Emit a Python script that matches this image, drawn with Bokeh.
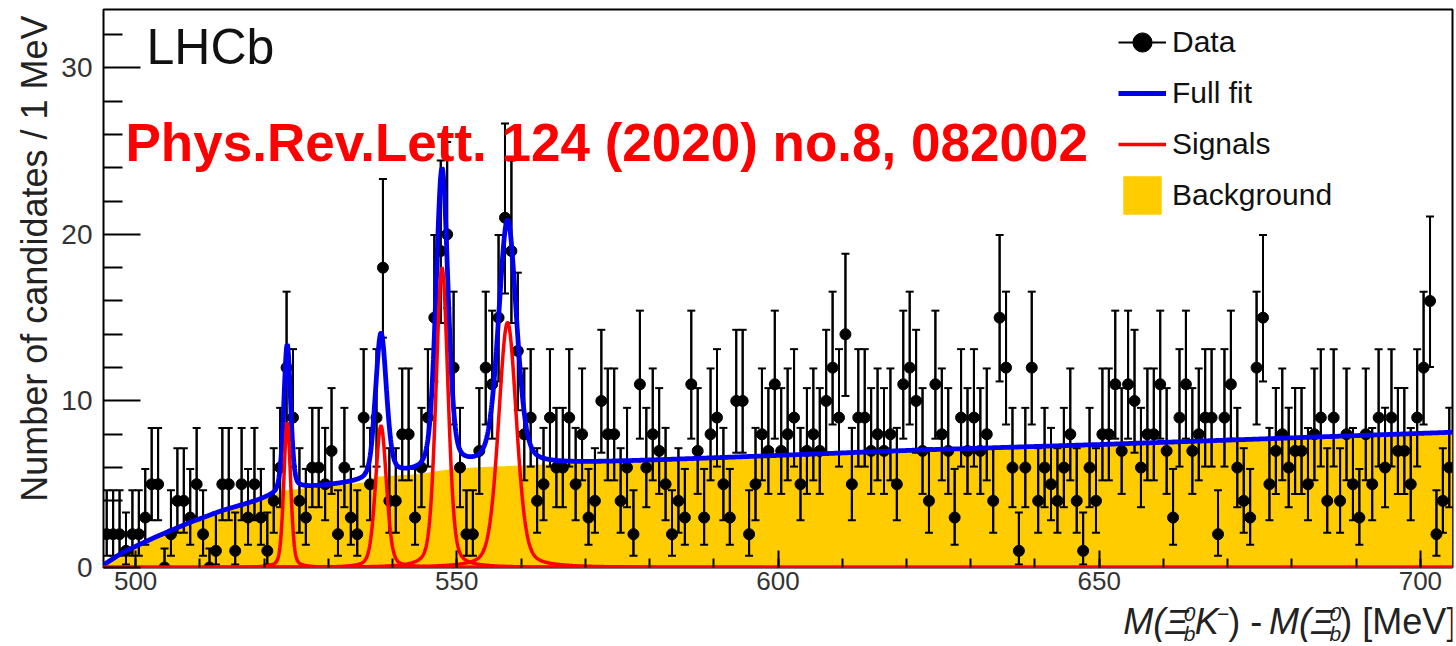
import numpy as np
from bokeh.plotting import figure
from bokeh.layouts import column
from bokeh.models import (ColumnDataSource, Range1d, FixedTicker, Whisker, TeeHead,
                          Legend, LegendItem, Label, Title)
from bokeh.embed import file_html
from bokeh.resources import INLINE

# ---------------- data ----------------
mass_low, mass_high, bin_width = 495.0, 705.0, 1.0
counts = [
    2, 2, 2, 1, 2, 2, 3, 5, 5, 0,
    2, 4, 4, 3, 5, 2, 0, 1, 5, 5,
    1, 5, 3, 5, 3, 1, 4, 6, 12, 9,
    4, 3, 6, 6, 5, 7, 2, 6, 3, 2,
    9, 5, 9, 18, 4, 4, 8, 8, 3, 6,
    9, 15, 19, 20, 12, 6, 2, 2, 7, 12,
    11, 15, 21, 19, 13, 8, 9, 4, 5, 9,
    6, 6, 9, 5, 8, 3, 4, 10, 8, 8,
    4, 6, 2, 11, 6, 8, 7, 5, 2, 4,
    3, 11, 7, 3, 8, 9, 5, 3, 10, 10,
    2, 5, 8, 7, 11, 7, 8, 9, 5, 7,
    8, 7, 10, 12, 9, 14, 5, 9, 9, 7,
    8, 7, 8, 5, 11, 12, 10, 7, 4, 11,
    8, 7, 3, 9, 7, 9, 7, 8, 4, 15,
    12, 6, 1, 6, 12, 4, 6, 5, 4, 6,
    8, 4, 1, 6, 4, 8, 8, 11, 7, 11,
    10, 6, 8, 8, 11, 7, 3, 9, 11, 7,
    8, 9, 9, 2, 9, 11, 6, 4, 3, 12,
    15, 5, 7, 8, 6, 7, 7, 5, 8, 9,
    4, 9, 4, 8, 5, 3, 8, 5, 9, 6,
    9, 7, 7, 5, 9, 12, 16, 2, 4, 6,
]
assert len(counts) == 210

# Poisson 68% intervals (RooFit style) indexed by count
poisson_lower = [0.0, 0.173, 0.708, 1.367, 2.086, 2.840, 3.620, 4.419, 5.232, 6.057,
                 6.891, 7.734, 8.585, 9.441, 10.30, 11.17, 12.04, 12.92, 13.80, 14.68,
                 15.57, 16.45]
poisson_upper = [1.148, 3.300, 4.638, 5.918, 7.163, 8.382, 9.584, 10.77, 11.95, 13.11,
                 14.27, 15.42, 16.56, 17.70, 18.83, 19.96, 21.08, 22.20, 23.32, 24.44,
                 25.55, 26.66]

# Background shape of the fit (knots)
bg_mass = [495.0, 498.0, 503.0, 508.5, 513.5, 519.0, 521.8, 522.4, 526.0, 530.0,
           534.0, 536.6, 537.2, 544.0, 547.0, 550.0, 555.0, 565.0, 600.0, 622.0,
           650.0, 677.0, 705.0]
bg_level = [0.15, 0.9, 1.8, 2.7, 3.4, 4.0, 4.35, 4.6, 4.75, 4.9,
            5.05, 5.15, 5.45, 5.6, 5.8, 5.95, 6.05, 6.2, 6.72, 7.05,
            7.38, 7.74, 8.12]

# Four narrow signal peaks of the fit
sig_mass = [523.6, 538.2, 547.7, 557.9]
sig_height = [8.7, 8.5, 18.0, 14.7]
sig_fwhm = [1.25, 2.0, 2.2, 3.3]
sig_lorentz_frac = [0.3, 0.3, 0.3, 0.3]

x_major = [500, 550, 600, 650, 700]
x_minor = [500, 510, 520, 530, 540, 550, 560, 570, 580, 590, 600, 610, 620, 630,
           640, 650, 660, 670, 680, 690, 700]
y_major = [0, 10, 20, 30]
y_minor = [2, 4, 6, 8, 12, 14, 16, 18, 22, 24, 26, 28, 32]

legend_labels = ["Data", "Full fit", "Signals", "Background"]
y_title = "Number of candidates / 1 MeV"

# ---------------- derived ----------------
centers = mass_low + bin_width * (np.arange(len(counts)) + 0.5)
cnt = np.array(counts)
lo = np.array(poisson_lower)[cnt]
hi = np.array(poisson_upper)[cnt]
src = ColumnDataSource(dict(mass=centers, count=cnt, lo=lo, hi=hi))

m_fine = np.linspace(mass_low, mass_high, 4201)
bg_fine = np.interp(m_fine, bg_mass, bg_level)
signals = []
for m0, h, g, eta in zip(sig_mass, sig_height, sig_fwhm, sig_lorentz_frac):
    d = (m_fine - m0) / g
    shape = eta / (1.0 + 4.0 * d * d) + (1.0 - eta) * np.exp(-4.0 * np.log(2.0) * d * d)
    signals.append(h * shape)
full_fit = bg_fine + np.sum(signals, axis=0)

# ---------------- main figure ----------------
FONT = "Liberation Sans"
W = 1456
MAIN_H, TITLE_H = 601, 45
L, R, T, B = 103, 4, 9, 34
y_top = 33.5
MID = 0.35  # distance (in em) from alphabetic baseline up to the text middle


def drop_title(fig):
    try:
        fig.title = None
    except Exception:
        fig.title.visible = False


p = figure(width=W, height=MAIN_H, x_range=Range1d(mass_low, mass_high),
           y_range=Range1d(0, y_top), output_backend="svg", toolbar_location=None,
           min_border_left=L, min_border_right=R, min_border_top=T, min_border_bottom=B)
drop_title(p)
p.background_fill_color = "white"
p.border_fill_color = "white"
p.outline_line_color = "black"
p.outline_line_width = 2
p.xgrid.visible = False
p.ygrid.visible = False

bg_r = p.varea(x=bg_mass, y1=[0] * len(bg_level), y2=bg_level,
               fill_color="#FFCC00", level="image")

p.add_layout(Whisker(source=src, base="mass", lower="lo", upper="hi", dimension="height",
                     line_color="black", line_width=2,
                     lower_head=TeeHead(size=8, line_color="black", line_width=2),
                     upper_head=TeeHead(size=8, line_color="black", line_width=2)))
bars = p.segment(x0="mass", y0="lo", x1="mass", y1="hi", source=src,
                 line_color="black", line_width=2)
dots = p.scatter("mass", "count", source=src, size=11, fill_color="black",
                 line_color="black")

blue = p.line(m_fine, full_fit, line_color="#0000ee", line_width=4.8)
reds = [p.line(m_fine, s, line_color="#ff0000", line_width=3.5) for s in signals]

# axes
for ax in p.xaxis:
    ax.ticker = FixedTicker(ticks=x_major, minor_ticks=x_minor)
    ax.major_tick_in, ax.major_tick_out = 17, 0
    ax.minor_tick_in, ax.minor_tick_out = 9, 0
    ax.major_tick_line_width = 2
    ax.minor_tick_line_width = 2
    ax.axis_line_color = None
    ax.major_label_text_font = FONT
    ax.major_label_text_font_size = "26px"
    ax.major_label_text_color = "#333333"
    ax.major_label_standoff = 4
for ax in p.yaxis:
    ax.ticker = FixedTicker(ticks=y_major, minor_ticks=y_minor)
    ax.major_tick_in, ax.major_tick_out = 37, 0
    ax.minor_tick_in, ax.minor_tick_out = 19, 0
    ax.major_tick_line_width = 2
    ax.minor_tick_line_width = 2
    ax.axis_line_color = None
    ax.major_label_text_font = FONT
    ax.major_label_text_font_size = "28px"
    ax.major_label_text_color = "#333333"
    ax.major_label_standoff = 11

# y-axis title, aligned to the top end like the reference
p.add_layout(Title(text=y_title, align="right", offset=6, standoff=8,
                   text_font=FONT, text_font_size="36px", text_font_style="normal",
                   text_color="#222222"), "left")

# pixel -> data helpers for text placement inside the frame
px_per_x = (W - L - R) / (mass_high - mass_low)
px_per_y = (MAIN_H - T - B) / y_top
def to_x(px):
    return mass_low + (px - L) / px_per_x
def to_y(py):
    return (MAIN_H - B - py) / px_per_y

p.add_layout(Label(x=to_x(146), y=to_y(64 - MID * 50), text="LHCb", text_font=FONT,
                   text_font_size="50px", text_color="#111111", text_baseline="middle"))
p.add_layout(Label(x=to_x(125), y=to_y(161 - MID * 53),
                   text="Phys.Rev.Lett. 124 (2020) no.8, 082002",
                   text_font=FONT, text_font_size="53px", text_font_style="bold",
                   text_color="#ff0000", text_baseline="middle"))

# legend
legend = Legend(items=[LegendItem(label=legend_labels[0], renderers=[bars, dots]),
                       LegendItem(label=legend_labels[1], renderers=[blue]),
                       LegendItem(label=legend_labels[2], renderers=[reds[0]]),
                       LegendItem(label=legend_labels[3], renderers=[bg_r])],
                location=(1118 - L, (MAIN_H - B) - 219),
                glyph_width=48, glyph_height=48, spacing=3, padding=0, margin=0,
                label_standoff=6, label_text_font=FONT, label_text_font_size="30px",
                label_text_color="#111111", border_line_alpha=0,
                background_fill_alpha=0)
p.add_layout(legend)

# ---------------- x-axis title strip (sub/superscripts) ----------------
t = figure(width=W, height=TITLE_H, x_range=Range1d(0, W),
           y_range=Range1d(MAIN_H + TITLE_H, MAIN_H), x_axis_type=None, y_axis_type=None,
           output_backend="svg", toolbar_location=None, min_border=0)
drop_title(t)
t.outline_line_color = None
t.background_fill_color = "white"
t.border_fill_color = "white"

F, S = 36, 21
base_py, sup_py, sub_py = 634, 621, 640
pieces = [  # text, size, style, baseline, advance (em)
    ("M(\u039e", F, "italic", base_py, 1.814),
    ("0", S, "italic", sup_py, 0.0),
    ("b", S, "italic", sub_py, 0.556),
    ("K", F, "italic", base_py, 0.667),
    ("\u2212", S, "normal", sup_py, 0.584),
    (") - ", F, "normal", base_py, 1.222),
    ("M(\u039e", F, "italic", base_py, 1.814),
    ("0", S, "italic", sup_py, 0.0),
    ("b", S, "italic", sub_py, 0.556),
    (") [MeV]", F, "normal", base_py, 3.223),
]
total = sum(adv * size for _, size, _, _, adv in pieces)
cur = (W - 5) - total
for text, size, style, py, adv in pieces:
    t.add_layout(Label(x=cur, y=py - MID * size, text=text, text_font=FONT,
                       text_font_size=f"{size}px", text_font_style=style,
                       text_color="#222222", text_baseline="middle"))
    cur += adv * size

layout = column(p, t, spacing=0)
open("out.html", "w").write(file_html(layout, INLINE))
